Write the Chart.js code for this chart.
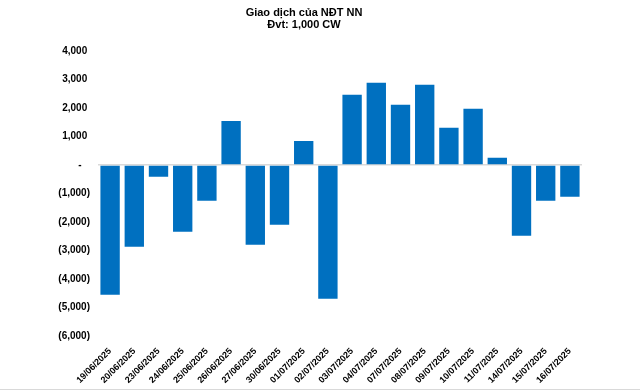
<!DOCTYPE html>
<html>
<head>
<meta charset="utf-8">
<script src="https://cdn.jsdelivr.net/npm/chart.js@4"></script>
<style>
  html, body { margin: 0; padding: 0; background: #fff; }
  #wrap { width: 640px; height: 391px; }
</style>
</head>
<body>
<div id="wrap"><canvas id="c" width="640" height="391"></canvas></div>
<script>
const titleLines = ["Giao dịch của NĐT NN", "Đvt: 1,000 CW"];
const categories = ["19/06/2025","20/06/2025","23/06/2025","24/06/2025","25/06/2025","26/06/2025","27/06/2025","30/06/2025","01/07/2025","02/07/2025","03/07/2025","04/07/2025","07/07/2025","08/07/2025","09/07/2025","10/07/2025","11/07/2025","14/07/2025","15/07/2025","16/07/2025"];
const netValues = [-4550,-2870,-410,-2340,-1250,1550,-2800,-2090,850,-4690,2470,2890,2120,2820,1310,1980,260,-2480,-1250,-1110];
const yMin = -6000, yMax = 4000, yStep = 1000;

function fmt(v) {
  if (v === 0) return "-   ";
  const s = Math.abs(v).toLocaleString("en-US");
  return v < 0 ? "(" + s + ")" : s + " ";
}

const bottomLine = {
  id: "bottomLine",
  afterDraw(chart) {
    const ctx = chart.ctx;
    ctx.save();
    ctx.strokeStyle = "#d9d9d9";
    ctx.lineWidth = 1;
    ctx.beginPath();
    ctx.moveTo(0, 389.5);
    ctx.lineTo(640, 389.5);
    ctx.stroke();
    ctx.restore();
  }
};

new Chart(document.getElementById("c"), {
  type: "bar",
  data: {
    labels: categories,
    datasets: [{
      data: netValues,
      backgroundColor: "#0070C0",
      borderWidth: 0,
      barPercentage: 1,
      categoryPercentage: 0.8
    }]
  },
  options: {
    responsive: false,
    animation: false,
    layout: { padding: { left: 26, right: 58, top: 0, bottom: 0 } },
    plugins: {
      legend: { display: false },
      tooltip: { enabled: false },
      title: {
        display: true,
        text: titleLines,
        color: "#000",
        font: { family: "Liberation Sans, Arial, sans-serif", size: 11, weight: "bold", lineHeight: 1.1 },
        padding: { top: 7, bottom: 20 }
      }
    },
    scales: {
      x: {
        grid: { display: false },
        border: { display: false },
        ticks: {
          autoSkip: false,
          maxRotation: 45,
          minRotation: 45,
          padding: 2,
          color: "#000",
          font: { family: "Liberation Sans, Arial, sans-serif", size: 9, weight: "bold" }
        },
        afterFit(scale) { scale.height = 55; }
      },
      y: {
        min: yMin,
        max: yMax,
        border: { display: false },
        grid: {
          drawTicks: false,
          color: ctx => (ctx.tick && ctx.tick.value === 0) ? "#d9d9d9" : "rgba(0,0,0,0)",
          lineWidth: ctx => (ctx.tick && ctx.tick.value === 0) ? 1.5 : 0
        },
        ticks: {
          stepSize: yStep,
          autoSkip: false,
          padding: 8,
          color: "#000",
          font: { family: "Liberation Sans, Arial, sans-serif", size: 10, weight: "bold" },
          callback: v => fmt(v)
        },
        afterFit(scale) { scale.width = 72; }
      }
    }
  },
  plugins: [bottomLine]
});
</script>
</body>
</html>
